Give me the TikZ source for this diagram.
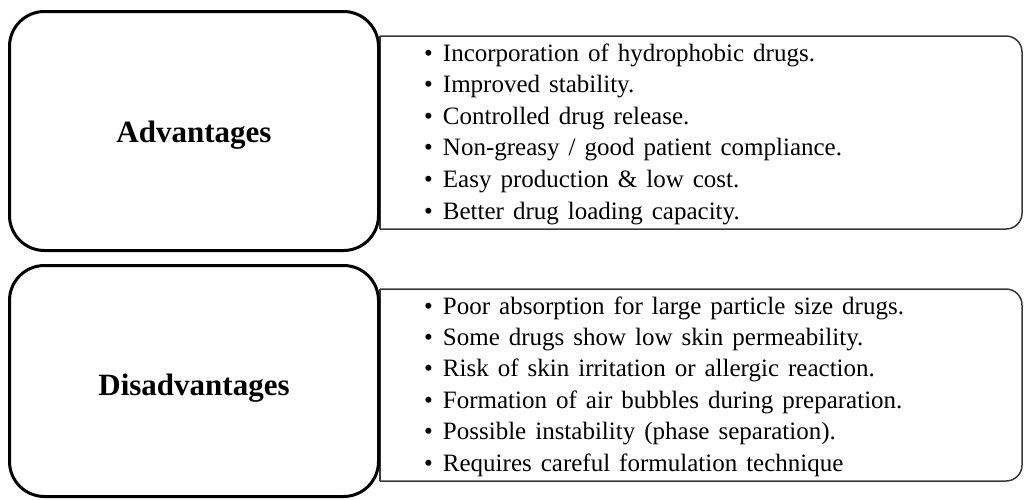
\documentclass[tikz,border=0pt]{standalone}
\usepackage{fontspec}
\setmainfont{Liberation Serif}
\usepackage{tikz}

\newcommand\widewords{\spaceskip=9pt\relax}

\tikzset{
  headbox/.style={draw, line width=3pt, rounded corners=35pt, fill=white,
    minimum width=369pt, inner sep=0pt},
  headtext/.style={anchor=base, inner sep=0pt, font=\fontsize{31}{36}\selectfont\bfseries},
  listbox/.style={draw=black!78, line width=1.5pt},
  itemtext/.style={anchor=base west, inner sep=0pt,
    font=\fontsize{25}{30}\selectfont},
}

\begin{document}
\begin{tikzpicture}[x=1pt, y=-1pt]
\useasboundingbox (0,0) rectangle (1024,499);

% right hand lists
\draw[listbox, rounded corners=16pt] (380,36) -- (1022,36) -- (1022,229) -- (380,229);
\draw[listbox] (380,36) -- (380,229);
\draw[listbox, rounded corners=16pt] (380,289) -- (1022,289) -- (1022,481) -- (380,481);
\draw[listbox] (380,289) -- (380,481);

% left hand titles
\node[headbox, minimum height=239pt] (advbox) at (194,131) {};
\node[headbox, minimum height=231pt] (disbox) at (194,381) {};
\node[headtext] (advtitle) at (194,142) {Advantages};
\node[headtext] (distitle) at (194,395) {Disadvantages};

\foreach \txt [count=\i] in {Incorporation of hydrophobic drugs.,
    Improved stability.,
    Controlled drug release.,
    Non-greasy / good patient compliance.,
    Easy production \& low cost.,
    Better drug loading capacity.}
  \node[itemtext] (adv\i) at (424,{61+31.6*(\i-1)}) {\widewords\textbullet\hspace{10pt}\txt};

\foreach \txt [count=\i] in {Poor absorption for large particle size drugs.,
    Some drugs show low skin permeability.,
    Risk of skin irritation or allergic reaction.,
    Formation of air bubbles during preparation.,
    Possible instability (phase separation).,
    Requires careful formulation technique}
  \node[itemtext] (dis\i) at (424,{314+31.4*(\i-1)}) {\widewords\textbullet\hspace{10pt}\txt};
\end{tikzpicture}
\end{document}
